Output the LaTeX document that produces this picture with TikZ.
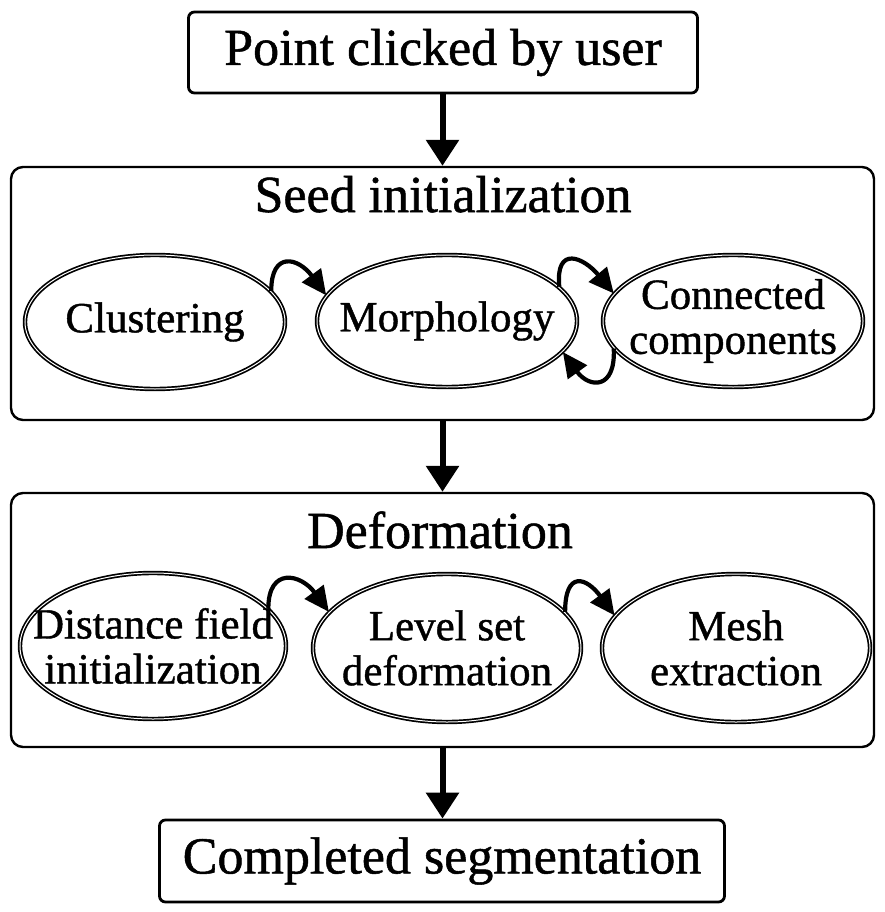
\documentclass[tikz,border=0pt]{standalone}
\usepackage{fontspec}
\setmainfont{Liberation Serif}[FakeBold=1]
\usetikzlibrary{arrows.meta,shapes.geometric}
\begin{document}
\begin{tikzpicture}[x=1pt,y=-1pt,
  bigtext/.style={font=\fontsize{52}{56}\selectfont},
  smalltext/.style={font=\fontsize{43}{45}\selectfont, align=center, inner sep=0pt},
  endbox/.style={draw, line width=2.8pt, rounded corners=6pt, inner sep=0pt},
  groupbox/.style={draw, line width=2.4pt, rounded corners=12pt, inner sep=0pt},
  ell/.style={ellipse, draw, double, double distance=1pt, line width=1.7pt, inner sep=0pt},
  varrow/.style={line width=6pt, -{Triangle[width=32pt,length=26pt]}},
  carrow/.style={line width=4.2pt, -{Triangle[width=23pt,length=25pt]}}
]
\useasboundingbox (0,0) rectangle (885,912);
% top and bottom boxes
\node[endbox, minimum width=509pt, minimum height=81pt] (top) at (443,52.5) {};
\node[bigtext] (topT) at (top.center) {Point clicked by user};
\node[endbox, minimum width=565pt, minimum height=82pt] (bot) at (442,861) {};
\node[bigtext] (botT) at (bot.center) {Completed segmentation};
% group boxes
\node[groupbox, minimum width=863pt, minimum height=253pt] (seed) at (442.5,293.5) {};
\node[bigtext, anchor=base] (seedT) at (443,212) {Seed initialization};
\node[groupbox, minimum width=863pt, minimum height=254pt] (def) at (442.5,620) {};
\node[bigtext, anchor=base] (defT) at (440,548) {Deformation};
% ellipses: seed
\node[ell, minimum width=260pt, minimum height=134pt] (clu) at (155,322) {};
\node[smalltext] (cluT) at (clu.center) {Clustering};
\node[ell, minimum width=260pt, minimum height=132pt] (mor) at (447,321) {};
\node[smalltext] (morT) at (mor.center) {Morphology};
\node[ell, minimum width=260pt, minimum height=132pt] (con) at (733,321) {};
\node[smalltext] (conT) at (con.center) {Connected\\components};
% ellipses: deformation
\node[ell, minimum width=266pt, minimum height=146pt] (dis) at (153,646) {};
\node[smalltext] (disT) at (dis.center) {Distance field\\initialization};
\node[ell, minimum width=268pt, minimum height=148pt] (lev) at (447,648) {};
\node[smalltext] (levT) at (lev.center) {Level set\\deformation};
\node[ell, minimum width=268pt, minimum height=148pt] (mes) at (736,648) {};
\node[smalltext] (mesT) at (mes.center) {Mesh\\extraction};
% vertical arrows
\draw[varrow] (top.south -| seed.north) -- (seed.north);
\draw[varrow] (seed.south) -- (def.north);
\draw[varrow] (def.south) -- (def.south |- bot.north);
% curved arrows
\draw[carrow] (clu.15) .. controls +(0,-40) and +(-28,-38) .. (mor.168);
\draw[carrow] (mor.17) .. controls +(-4,-42) and +(-30,-36) .. (con.167);
\draw[carrow] (con.193) .. controls +(2,42) and +(26,36) .. (mor.345);
\draw[carrow] (dis.18) .. controls +(0,-42) and +(-28,-38) .. (lev.163);
\draw[carrow] (lev.17) .. controls +(0,-42) and +(-28,-38) .. (mes.165);
\end{tikzpicture}
\end{document}
